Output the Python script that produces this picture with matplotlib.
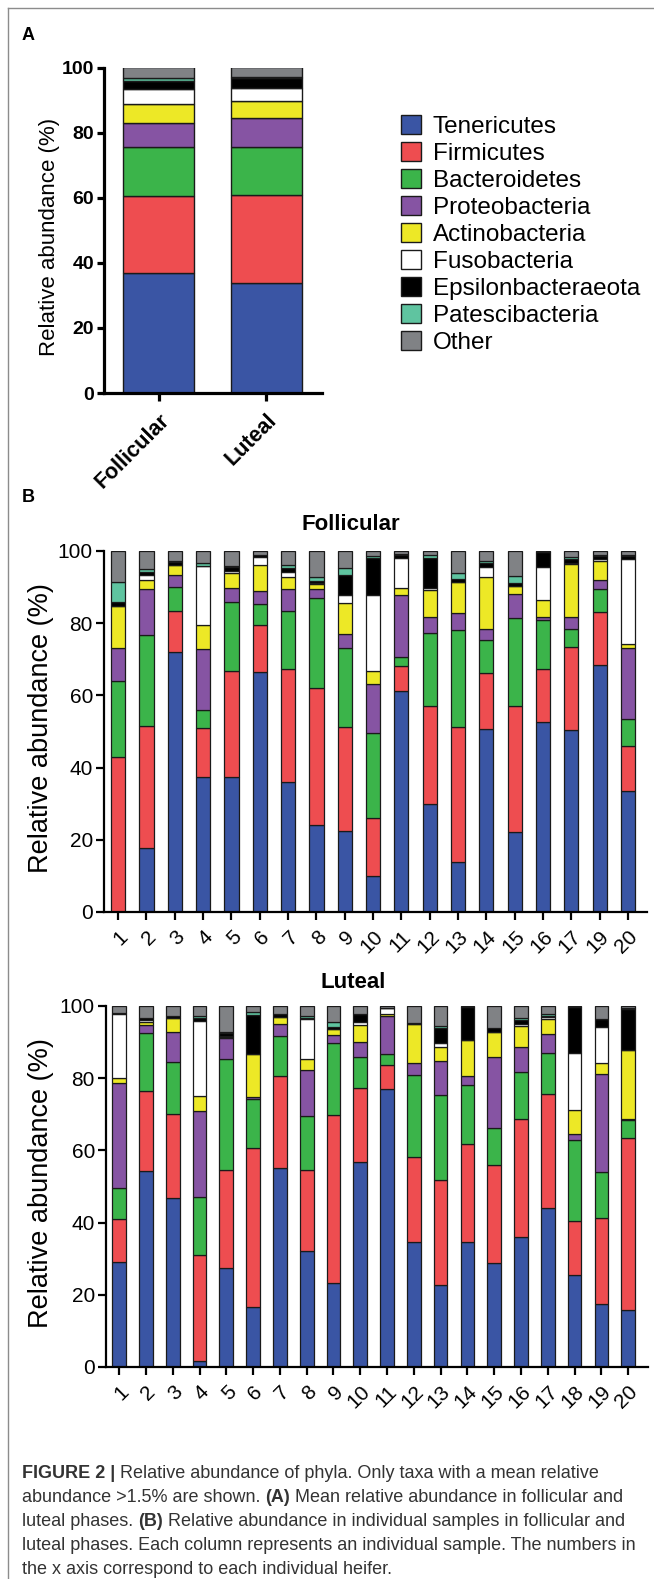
import numpy as np
import matplotlib
matplotlib.use('Agg')
import matplotlib.pyplot as plt
from matplotlib.patches import Patch
from matplotlib.lines import Line2D

plt.rcParams['font.family'] = ['Liberation Sans', 'DejaVu Sans']

W, H = 654, 1579

#### Data (upper edge of each stacked segment, %) ####

taxa = ['Tenericutes', 'Firmicutes', 'Bacteroidetes', 'Proteobacteria', 'Actinobacteria',
        'Fusobacteria', 'Epsilonbacteraeota', 'Patescibacteria', 'Other']
colors = ['#3a55a4', '#ee4d50', '#3bb44a', '#8654a3', '#ede826',
          '#ffffff', '#000000', '#5fc4a0', '#808285']

# panel A, mean of each phase
mean_phases = ['Follicular', 'Luteal']
mean_tene = [36.9, 33.8]
mean_firm = [60.4, 60.7]
mean_bact = [75.6, 75.6]
mean_prot = [82.8, 84.5]
mean_acti = [88.7, 89.7]
mean_fuso = [93.5, 93.8]
mean_epsi = [95.8, 96.9]
mean_pate = [96.8, 97.1]

# panel B, follicular samples (no heifer 18)
fol_ids = ['1', '2', '3', '4', '5', '6', '7', '8', '9', '10', '11', '12', '13', '14',
           '15', '16', '17', '19', '20']
fol_tene = [0, 17.8, 71.9, 37.4, 37.4, 66.5, 35.9, 24.1, 22.5, 10.0, 61.1, 29.9, 13.8, 50.7, 22.1, 52.5, 50.3, 68.4, 33.6]
fol_firm = [43.0, 51.6, 83.5, 51.1, 66.7, 79.4, 67.4, 62.0, 51.2, 26.0, 68.2, 57.2, 51.3, 66.2, 57.1, 67.4, 73.3, 83.1, 45.9]
fol_bact = [64.1, 76.6, 90.0, 56.0, 85.8, 85.4, 83.3, 87.0, 73.2, 49.7, 70.5, 77.3, 78.0, 75.4, 81.5, 80.8, 78.5, 89.5, 53.4]
fol_prot = [73.0, 89.5, 93.4, 72.8, 89.7, 89.0, 89.5, 89.5, 77.1, 63.1, 87.7, 81.7, 82.9, 78.3, 88.1, 81.7, 81.7, 92.0, 73.0]
fol_acti = [84.7, 92.0, 96.1, 79.6, 93.9, 96.1, 92.9, 90.9, 85.6, 66.8, 89.8, 89.3, 91.3, 92.7, 90.2, 86.3, 96.4, 97.3, 74.1]
fol_fuso = [84.7, 93.4, 96.1, 95.8, 94.5, 98.3, 94.3, 91.0, 87.9, 87.9, 98.0, 89.8, 91.3, 95.5, 90.3, 95.5, 96.6, 97.9, 97.8]
fol_epsi = [86.0, 94.3, 96.9, 95.8, 95.5, 98.9, 95.3, 91.8, 93.4, 98.0, 98.8, 98.0, 92.3, 96.7, 91.2, 99.6, 97.9, 98.5, 98.5]
fol_pate = [91.5, 95.0, 97.3, 96.7, 95.8, 98.9, 96.0, 92.7, 95.2, 98.5, 99.3, 98.8, 93.9, 97.3, 93.0, 99.6, 98.3, 98.8, 98.8]

# panel B, luteal samples
lut_ids = [str(i) for i in range(1, 21)]
lut_tene = [29.2, 54.3, 46.8, 1.7, 27.4, 16.6, 55.0, 32.1, 23.2, 56.9, 77.0, 34.5, 22.8, 34.5, 28.9, 36.0, 44.0, 25.6, 17.5, 15.8]
lut_firm = [41.1, 76.5, 70.0, 31.0, 54.7, 60.8, 80.6, 54.5, 69.7, 77.2, 83.7, 58.3, 51.8, 61.8, 55.9, 68.6, 75.6, 40.5, 41.2, 63.3]
lut_bact = [49.5, 92.4, 84.6, 47.0, 85.2, 74.3, 91.7, 69.6, 89.8, 86.0, 86.6, 80.9, 75.3, 78.1, 66.1, 81.7, 86.9, 62.8, 54.1, 68.4]
lut_prot = [78.8, 94.7, 92.7, 70.8, 91.0, 74.9, 94.9, 82.3, 92.0, 90.1, 97.2, 84.1, 84.8, 80.6, 86.0, 88.6, 92.2, 64.5, 81.2, 68.6]
lut_acti = [80.0, 95.7, 96.8, 75.1, 91.4, 86.7, 97.0, 85.2, 93.5, 94.7, 97.8, 95.0, 88.7, 90.6, 92.9, 94.5, 96.3, 71.2, 84.3, 87.8]
lut_fuso = [97.8, 96.0, 96.8, 95.8, 91.6, 86.7, 97.0, 96.4, 93.5, 95.7, 99.4, 95.0, 89.8, 90.6, 92.9, 95.0, 96.9, 86.9, 94.3, 87.8]
lut_epsi = [98.0, 96.6, 97.1, 96.6, 92.5, 97.5, 97.8, 96.6, 94.3, 97.8, 99.4, 95.2, 93.8, 99.7, 93.8, 96.0, 97.2, 99.7, 96.3, 99.2]
lut_pate = [98.0, 96.6, 97.1, 97.2, 92.9, 98.4, 97.8, 97.1, 95.7, 97.8, 99.4, 95.2, 94.5, 99.7, 93.8, 96.6, 97.8, 99.7, 96.3, 99.5]

####################


def px_rect(l, t, r, b):
    return [l / W, 1 - b / H, (r - l) / W, (b - t) / H]


def stacked(ax, tops_list, width, lw):
    n = len(tops_list[0])
    tops = np.vstack([np.zeros(n)] + [np.array(t, float) for t in tops_list] + [np.full(n, 100.0)])
    heights = np.diff(tops, axis=0)
    x = np.arange(n)
    for k in range(len(taxa)):
        ax.bar(x, heights[k], bottom=tops[k], width=width, color=colors[k],
               edgecolor='#1a1a1a', linewidth=lw, zorder=2)
    return x


def style_axes(ax, spine_lw):
    for s in ['top', 'right']:
        ax.spines[s].set_visible(False)
    for s in ['left', 'bottom']:
        ax.spines[s].set_linewidth(spine_lw)
    ax.set_ylim(0, 100)
    ax.set_yticks([0, 20, 40, 60, 80, 100])
    ax.tick_params(direction='out', width=spine_lw, length=5, pad=2)


fig = plt.figure(figsize=(W / 100, H / 100), dpi=100)

# page frame
fig.add_artist(Line2D([8 / W, 1], [1 - 8 / H, 1 - 8 / H], color='#8c8c8c', lw=1))
fig.add_artist(Line2D([8 / W, 8 / W], [0, 1 - 8 / H], color='#8c8c8c', lw=1))

#### Panel A ####

axA = fig.add_axes(px_rect(104, 67.5, 322, 393))
xa = stacked(axA, [mean_tene, mean_firm, mean_bact, mean_prot, mean_acti,
                   mean_fuso, mean_epsi, mean_pate], 0.66, 1.0)
style_axes(axA, 2.3)
axA.set_xlim(-0.51, 1.52)
axA.set_xticks(xa)
axA.set_xticklabels(mean_phases, rotation=45, ha='right', rotation_mode='anchor',
                    fontsize=15.5, fontweight='bold')
for lab in axA.get_yticklabels():
    lab.set_fontweight('bold')
    lab.set_fontsize(14)
axA.tick_params(axis='x', length=6, pad=6)
axA.set_ylabel('Relative abundance (%)', fontsize=16)
axA.yaxis.set_label_coords(-0.2, 0.48)

handles = [Patch(facecolor=c, edgecolor='#1a1a1a', linewidth=1.0) for c in colors]
fig.legend(handles, taxa, loc='upper left', bbox_to_anchor=(401 / W, 1 - 115 / H),
           frameon=False, fontsize=17.5, handlelength=0.82, handleheight=0.82,
           handletextpad=0.48, labelspacing=0.17, borderpad=0, borderaxespad=0)

fig.text(22 / W, 1 - 35 / H, 'A', fontsize=13, fontweight='bold', va='center')
fig.text(22 / W, 1 - 497 / H, 'B', fontsize=13, fontweight='bold', va='center')

#### Panel B follicular ####

axF = fig.add_axes(px_rect(104, 551, 647, 912))
xf = stacked(axF, [fol_tene, fol_firm, fol_bact, fol_prot, fol_acti,
                   fol_fuso, fol_epsi, fol_pate], 0.5, 0.9)
style_axes(axF, 1.6)
axF.set_xlim(-0.5, 18.67)
axF.set_xticks(xf)
axF.set_xticklabels(fol_ids, rotation=45, ha='right', rotation_mode='anchor', fontsize=15)
axF.tick_params(axis='y', labelsize=15, length=6)
axF.tick_params(axis='x', length=6, pad=5)
axF.set_ylabel('Relative abundance (%)', fontsize=19.5)
axF.yaxis.set_label_coords(-0.093, 0.51)
fig.text(351 / W, 1 - 524 / H, 'Follicular', fontsize=16, fontweight='bold',
         ha='center', va='center')

#### Panel B luteal ####

axL = fig.add_axes(px_rect(106, 1006, 648, 1367))
xl = stacked(axL, [lut_tene, lut_firm, lut_bact, lut_prot, lut_acti,
                   lut_fuso, lut_epsi, lut_pate], 0.51, 0.9)
style_axes(axL, 1.6)
axL.set_xlim(-0.49, 19.74)
axL.set_xticks(xl)
axL.set_xticklabels(lut_ids, rotation=45, ha='right', rotation_mode='anchor', fontsize=15)
axL.tick_params(axis='y', labelsize=15, length=6)
axL.tick_params(axis='x', length=6, pad=5)
axL.set_ylabel('Relative abundance (%)', fontsize=19.5)
axL.yaxis.set_label_coords(-0.096, 0.51)
fig.text(353 / W, 1 - 982 / H, 'Luteal', fontsize=16, fontweight='bold',
         ha='center', va='center')

#### Caption ####

cap_lines = [
    [('FIGURE 2 |', 'bold'), (' Relative abundance of phyla. Only taxa with a mean relative', 'normal')],
    [('abundance >1.5% are shown. ', 'normal'), ('(A)', 'bold'),
     (' Mean relative abundance in follicular and', 'normal')],
    [('luteal phases. ', 'normal'), ('(B)', 'bold'),
     (' Relative abundance in individual samples in follicular and', 'normal')],
    [('luteal phases. Each column represents an individual sample. The numbers in', 'normal')],
    [('the x axis correspond to each individual heifer.', 'normal')],
]
cap_y = [1473, 1497, 1522, 1546, 1569]

renderer = fig.canvas.get_renderer()
for parts, yy in zip(cap_lines, cap_y):
    x0 = 22
    for txt, wt in parts:
        t = fig.text(x0 / W, 1 - yy / H, txt, fontsize=13, fontweight=wt,
                     color='#333333', va='center', ha='left')
        bb = t.get_window_extent(renderer)
        x0 += bb.width

fig.savefig('out.png', dpi=100)
